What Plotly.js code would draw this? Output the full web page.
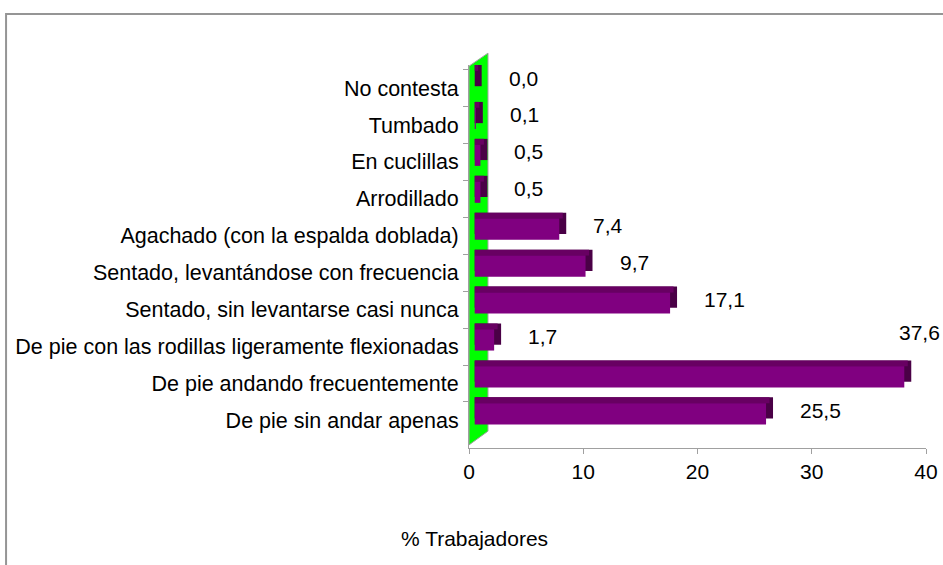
<!DOCTYPE html>
<html>
<head>
<meta charset="utf-8">
<script src="https://cdn.plot.ly/plotly-3.0.1.min.js"></script>
<style>html,body{margin:0;padding:0;background:#fff;}#chart{width:943px;height:565px;}</style>
</head>
<body>
<div id="chart"></div>
<script>
// Categories, top to bottom as in the reference
const categories = [
  "No contesta",
  "Tumbado",
  "En cuclillas",
  "Arrodillado",
  "Agachado (con la espalda doblada)",
  "Sentado, levantándose con frecuencia",
  "Sentado, sin levantarse casi nunca",
  "De pie con las rodillas ligeramente flexionadas",
  "De pie andando frecuentemente",
  "De pie sin andar apenas"
];
const values = [0.0, 0.1, 0.5, 0.5, 7.4, 9.7, 17.1, 1.7, 37.6, 25.5];
const valueLabels = ["0,0", "0,1", "0,5", "0,5", "7,4", "9,7", "17,1", "1,7", "37,6", "25,5"];
const xTicks = [0, 10, 20, 30, 40];
const xTitle = "% Trabajadores";

// --- styling (3D look emulated with offset bars) ---
const FONT = "Liberation Sans, Arial, sans-serif";
const wallDepth = 0.5;      // x-units the bars start after the wall
const depthX = 0.61;        // x-units for the bar depth
const frontOffset = -0.4675, barW = 0.575, depthY = 0.157;
const purple = "#800080", topCol = "#680062", sideCol = "#4a0046";

const sideTrace = {
  type: "bar", orientation: "h", y: categories,
  x: values.map(v => v + depthX), base: wallDepth,
  offset: frontOffset - depthY, width: barW,
  marker: {color: sideCol, line: {width: 0}}, hoverinfo: "skip", showlegend: false
};
const topTrace = {
  type: "bar", orientation: "h", y: categories,
  x: values.map(v => v + depthX * 0.5), base: wallDepth,
  offset: frontOffset - depthY, width: depthY,
  marker: {color: topCol, line: {width: 0}}, hoverinfo: "skip", showlegend: false
};
const frontTrace = {
  type: "bar", orientation: "h", y: categories,
  x: values, base: wallDepth,
  offset: frontOffset, width: barW,
  marker: {color: purple, line: {width: 0}}, showlegend: false
};

const xMax = xTicks[xTicks.length - 1];
const annotations = values.map((v, i) => {
  if (v > 0.9 * xMax) {
    return {xref: "paper", yref: "y", x: 1.035, y: categories[i], xanchor: "right", yanchor: "middle",
      yshift: 51, text: valueLabels[i], showarrow: false, font: {family: FONT, size: 21, color: "#000"}};
  }
  return {xref: "x", yref: "y", x: v + wallDepth + depthX, y: categories[i], xanchor: "left", yanchor: "middle",
    xshift: 25, yshift: 10, text: valueLabels[i], showarrow: false, font: {family: FONT, size: 21, color: "#000"}};
});
annotations.push({xref: "paper", yref: "paper", x: 0.013, y: -0.235, xanchor: "center", yanchor: "middle",
  text: xTitle, showarrow: false, font: {family: FONT, size: 21, color: "#000"}});

const layout = {
  width: 943, height: 565,
  margin: {l: 469, r: 17, t: 65, b: 117, pad: 0},
  paper_bgcolor: "#fff", plot_bgcolor: "rgba(0,0,0,0)",
  barmode: "overlay",
  font: {family: FONT, size: 21, color: "#000"},
  xaxis: {range: [0, xMax], tickvals: xTicks, ticktext: xTicks.map(String),
    showgrid: false, zeroline: false, showline: true, linecolor: "#a0a0a0", linewidth: 1,
    ticks: "outside", ticklen: 5, tickcolor: "#a0a0a0", tickfont: {family: FONT, size: 21, color: "#000"}},
  yaxis: {type: "category", autorange: "reversed", showgrid: false, zeroline: false,
    showline: true, linecolor: "#a0a0a0", linewidth: 1,
    ticks: "outside", tickson: "boundaries", ticklen: 5, tickcolor: "#a0a0a0",
    ticklabelstandoff: 5,
    tickfont: {family: FONT, size: 21.5, color: "#000"}},
  shapes: [
    {type: "rect", xref: "paper", yref: "paper", x0: -1.013, x1: 1.2, y0: -0.6, y1: 1.133,
      line: {color: "#959595", width: 2}, fillcolor: "rgba(0,0,0,0)", layer: "below"},
    {type: "path", xref: "x", yref: "paper", path: "M 0 0.008 L 1.66 0.044 L 1.66 1.031 L 0 0.997 Z",
      fillcolor: "#00ff00", line: {color: "#a0a0a0", width: 1}, layer: "below"}
  ],
  annotations: annotations
};

Plotly.newPlot("chart", [sideTrace, topTrace, frontTrace], layout, {displayModeBar: false, staticPlot: true});
</script>
</body>
</html>
